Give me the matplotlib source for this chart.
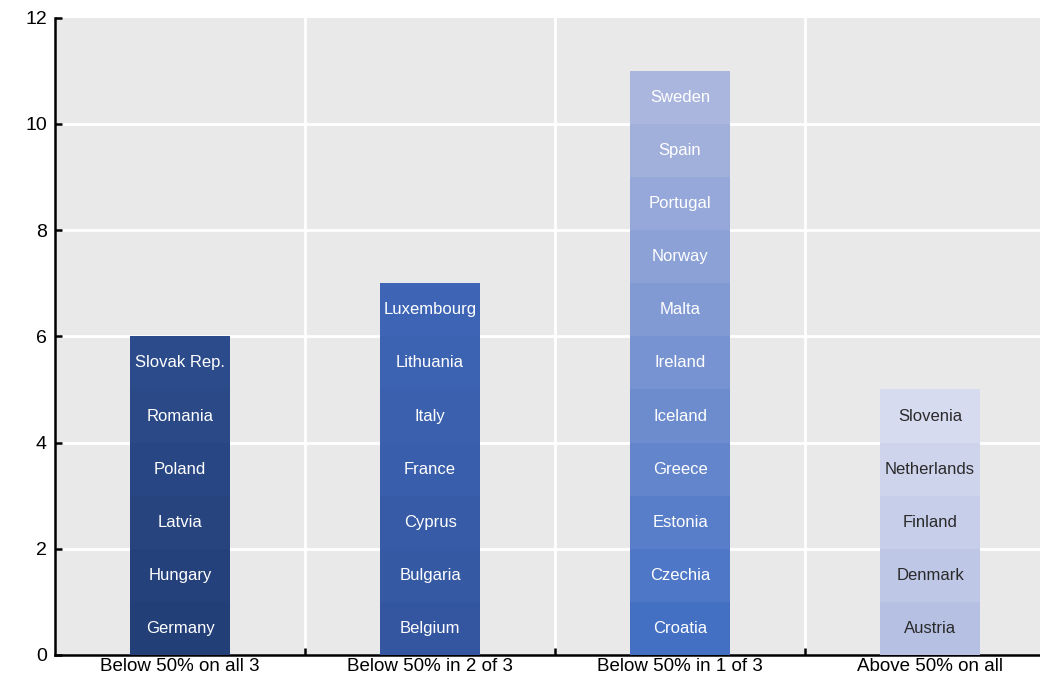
import numpy as np
import matplotlib
matplotlib.use('Agg')
import matplotlib.pyplot as plt
from matplotlib.colors import to_rgb

plt.rcParams['font.family'] = ['Liberation Sans', 'DejaVu Sans']

groups = ["Below 50% on all 3", "Below 50% in 2 of 3", "Below 50% in 1 of 3", "Above 50% on all"]
countries = [
    ["Germany", "Hungary", "Latvia", "Poland", "Romania", "Slovak Rep."],
    ["Belgium", "Bulgaria", "Cyprus", "France", "Italy", "Lithuania", "Luxembourg"],
    ["Croatia", "Czechia", "Estonia", "Greece", "Iceland", "Ireland", "Malta",
     "Norway", "Portugal", "Spain", "Sweden"],
    ["Austria", "Denmark", "Finland", "Netherlands", "Slovenia"],
]
# colour of the bottom and top segment in each group
shade_from = ["#233f78", "#3456a0", "#4470c4", "#b5c0e3"]
shade_to = ["#2c4b8a", "#3e65b5", "#abb6de", "#d7dbf0"]
label_colors = ["white", "white", "white", "#2a2a2a"]


def blend(c1, c2, t):
    a, b = np.array(to_rgb(c1)), np.array(to_rgb(c2))
    return tuple(a + (b - a) * t)


fig, ax = plt.subplots(figsize=(10.4, 6.83), dpi=100)
fig.subplots_adjust(left=0.053, right=1.0, bottom=0.041, top=0.974)
ax.set_facecolor("#e9e9e9")

for i, names in enumerate(countries):
    n = len(names)
    for j, name in enumerate(names):
        t = j / (n - 1) if n > 1 else 0
        ax.bar(i, 1, bottom=j, width=0.4, color=blend(shade_from[i], shade_to[i], t), zorder=3)
        ax.text(i, j + 0.5, name, ha="center", va="center", fontsize=12,
                color=label_colors[i], zorder=4)

ax.set_xlim(-0.5, 3.44)
ax.set_ylim(0, 12)
ax.set_yticks(range(0, 13, 2))
ax.set_xticks(range(len(groups)))
ax.set_xticklabels(groups)
ax.set_xticks([0.5, 1.5, 2.5], minor=True)

ax.grid(False)
for y in range(2, 12, 2):
    ax.axhline(y, color="white", linewidth=2, zorder=1)
for x in [0.5, 1.5, 2.5]:
    ax.axvline(x, color="white", linewidth=2, zorder=1)

for side in ["top", "right"]:
    ax.spines[side].set_visible(False)
ax.spines["left"].set_linewidth(1.8)
ax.spines["bottom"].set_linewidth(1.8)
ax.tick_params(axis="y", direction="in", length=5, width=1.8, labelsize=14, pad=6)
ax.tick_params(axis="x", which="major", length=0, labelsize=13.5, pad=2)
ax.tick_params(axis="x", which="minor", direction="in", length=5, width=1.8)

plt.savefig("out.png", dpi=100)
plt.close()
